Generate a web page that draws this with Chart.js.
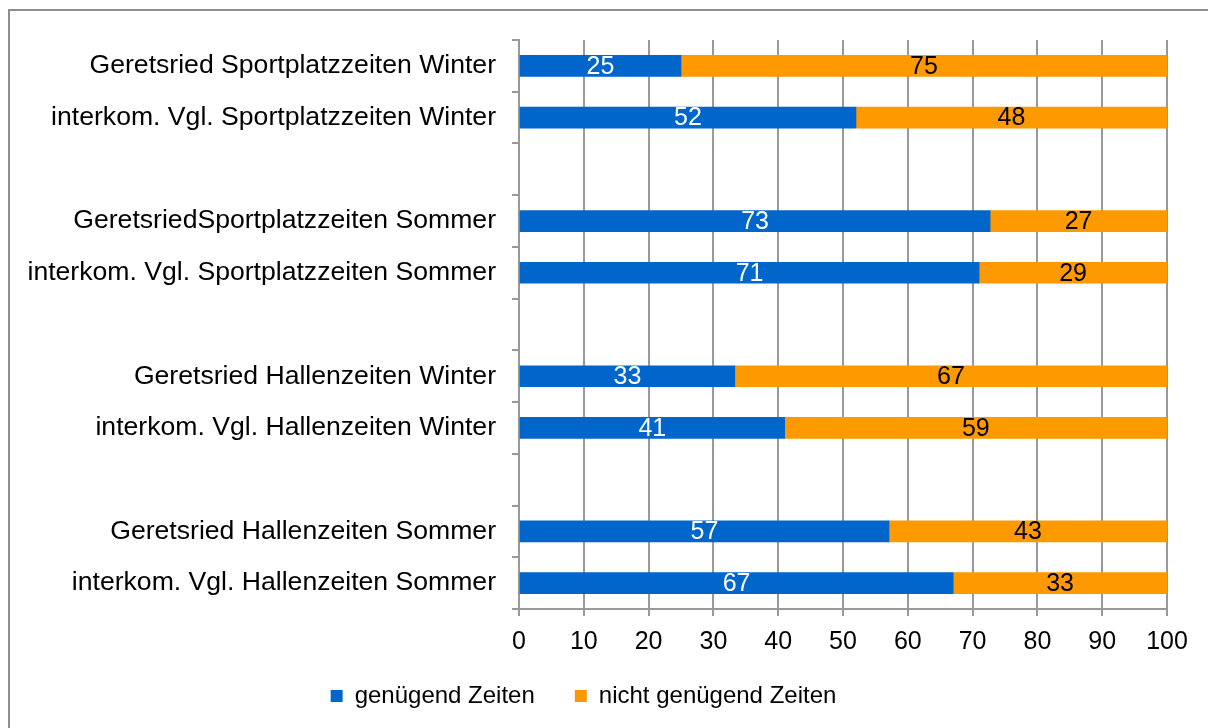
<!DOCTYPE html>
<html>
<head>
<meta charset="utf-8">
<script src="https://cdn.jsdelivr.net/npm/chart.js@4"></script>
<style>
  html, body { margin: 0; padding: 0; background: #fff; overflow: hidden; }
  #wrap { position: absolute; left: 0; top: 0; width: 1208px; height: 728px; overflow: hidden; background: #fff; }
  #frame { position: absolute; left: 8px; top: 9px; width: 1400px; height: 900px; border: 2px solid #8e8e8e; box-sizing: border-box; }
  #c { position: absolute; left: 0; top: 0; }
</style>
</head>
<body>
<div id="wrap">
  <div id="frame"></div>
  <canvas id="c" width="1208" height="728"></canvas>
</div>
<script>
const categories = [
  'Geretsried Sportplatzzeiten Winter',
  'interkom. Vgl. Sportplatzzeiten Winter',
  '',
  'GeretsriedSportplatzzeiten Sommer',
  'interkom. Vgl. Sportplatzzeiten Sommer',
  '',
  'Geretsried Hallenzeiten Winter',
  'interkom. Vgl. Hallenzeiten Winter',
  '',
  'Geretsried Hallenzeiten Sommer',
  'interkom. Vgl. Hallenzeiten Sommer'
];
const seriesNames = ['genügend Zeiten', 'nicht genügend Zeiten'];
const genuegend = [25, 52, null, 72.7, 71, null, 33.3, 41, null, 57.1, 67];
const nichtGenuegend = [75, 48, null, 27.3, 29, null, 66.7, 59, null, 42.9, 33];
const xTicks = [0, 10, 20, 30, 40, 50, 60, 70, 80, 90, 100];

const FONT = 'Liberation Sans, Arial, sans-serif';
const GRID = '#999999';

const valueLabels = {
  id: 'valueLabels',
  afterDatasetsDraw(chart) {
    const ctx = chart.ctx;
    ctx.save();
    ctx.font = '25px ' + FONT;
    ctx.textAlign = 'center';
    ctx.textBaseline = 'middle';
    chart.data.datasets.forEach((ds, di) => {
      const meta = chart.getDatasetMeta(di);
      meta.data.forEach((el, i) => {
        const v = ds.data[i];
        if (v === null || v === undefined) return;
        const p = el.getProps(['x', 'y', 'base'], true);
        ctx.fillStyle = di === 0 ? '#ffffff' : '#000000';
        ctx.fillText(String(Math.round(v)), (p.x + p.base) / 2, p.y + 1);
      });
    });
    ctx.restore();
  }
};

const LEGEND_H = 59;
const LEGEND_SHIFT = 25;
const legendPlace = {
  id: 'legendPlace',
  beforeInit(chart) {
    const lg = chart.legend;
    if (!lg) return;
    const orig = lg.fit;
    lg.fit = function () {
      orig.call(this);
      this.height = LEGEND_H;
    };
  },
  afterLayout(chart) {
    const lg = chart.legend;
    if (!lg) return;
    lg.top -= LEGEND_SHIFT;
  }
};

new Chart(document.getElementById('c'), {
  type: 'bar',
  data: {
    labels: categories,
    datasets: [
      { label: seriesNames[0], data: genuegend, backgroundColor: '#0066CC', barThickness: 21 },
      { label: seriesNames[1], data: nichtGenuegend, backgroundColor: '#FF9900', barThickness: 21 }
    ]
  },
  options: {
    indexAxis: 'y',
    responsive: false,
    animation: false,
    devicePixelRatio: 1,
    layout: { padding: { left: 0, right: 41, top: 40, bottom: 0 } },
    scales: {
      x: {
        stacked: true,
        min: 0, max: 100,
        afterBuildTicks(scale) { scale.ticks = xTicks.map(v => ({ value: v })); },
        afterFit(scale) { scale.height = 60; },
        ticks: { color: '#000', font: { family: FONT, size: 25 }, padding: 11 },
        grid: { color: GRID, lineWidth: 2, tickLength: 7, tickColor: GRID },
        border: { color: GRID, width: 2 }
      },
      y: {
        stacked: true,
        afterFit(scale) { scale.width = 519; },
        ticks: { color: '#000', font: { family: FONT, size: 26.6 }, padding: 16, autoSkip: false },
        grid: { drawOnChartArea: false, offset: true, color: GRID, lineWidth: 2, tickLength: 7, tickColor: GRID },
        border: { color: GRID, width: 2 }
      }
    },
    plugins: {
      legend: {
        position: 'bottom',
        labels: {
          color: '#000',
          font: { family: FONT, size: 24 },
          boxWidth: 12, boxHeight: 12,
          padding: 40
        }
      },
      tooltip: { enabled: false }
    }
  },
  plugins: [valueLabels, legendPlace]
});
</script>
</body>
</html>
